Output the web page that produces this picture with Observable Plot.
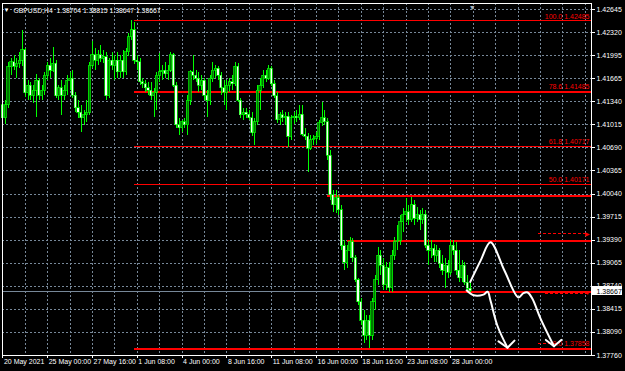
<!DOCTYPE html>
<html><head><meta charset="utf-8">
<script src="https://cdn.jsdelivr.net/npm/d3@7"></script>
<script src="https://cdn.jsdelivr.net/npm/@observablehq/plot@0.6"></script>
<style>html,body{margin:0;padding:0;background:#000;overflow:hidden}</style>
</head><body><div id="chart"></div>
<script>
// ---- data ----
const headerText = "GBPUSD,H4  1.38704 1.38815 1.38647 1.38667";
const firstOpen = 1.4129;
const closes = [
1.4111,1.4129,1.4183,1.4190,1.4184,1.4188,1.4192,1.4207,1.4146,1.4157,
1.4143,1.4150,1.4164,1.4143,1.4150,1.4171,1.4185,1.4178,1.4188,1.4142,
1.4153,1.4143,1.4150,1.4164,1.4167,1.4143,1.4125,1.4119,1.4111,1.4115,
1.4119,1.4185,1.4200,1.4192,1.4200,1.4195,1.4197,1.4142,1.4192,1.4185,
1.4192,1.4176,1.4192,1.4176,1.4204,1.4225,1.4235,1.4192,1.4190,1.4162,
1.4159,1.4153,1.4150,1.4142,1.4147,1.4171,1.4176,1.4178,1.4173,1.4178,
1.4200,1.4157,1.4101,1.4097,1.4105,1.4101,1.4136,1.4176,1.4171,1.4167,
1.4157,1.4164,1.4143,1.4136,1.4167,1.4178,1.4181,1.4171,1.4153,1.4147,
1.4157,1.4162,1.4159,1.4184,1.4136,1.4115,1.4119,1.4116,1.4111,1.4090,
1.4105,1.4150,1.4157,1.4171,1.4167,1.4181,1.4159,1.4142,1.4108,1.4115,
1.4111,1.4113,1.4085,1.4111,1.4113,1.4111,1.4116,1.4088,1.4085,1.4068,
1.4080,1.4082,1.4085,1.4104,1.4111,1.4105,1.4058,1.4002,1.3988,1.3998,
1.3981,1.3930,1.3907,1.3924,1.3936,1.3913,1.3882,1.3851,1.3825,1.3804,
1.3825,1.3804,1.3851,1.3882,1.3917,1.3903,1.3875,1.3899,1.3871,1.3917,
1.3936,1.3938,1.3964,1.3974,1.3978,1.3967,1.3988,1.3969,1.3974,1.3967,
1.3975,1.3931,1.3924,1.3927,1.3917,1.3924,1.3905,1.3896,1.3903,1.3893,
1.3931,1.3924,1.3896,1.3885,1.3903,1.3879,1.38704,1.38667];
const highs = [
1.4140,1.4136,1.4190,1.4195,1.4200,1.4195,1.4204,1.4235,1.4209,1.4164,
1.4162,1.4157,1.4173,1.4167,1.4157,1.4176,1.4190,1.4195,1.4211,1.4192,
1.4157,1.4164,1.4157,1.4171,1.4176,1.4178,1.4147,1.4136,1.4129,1.4122,
1.4136,1.4190,1.4219,1.4209,1.4207,1.4214,1.4207,1.4204,1.4195,1.4204,
1.4200,1.4204,1.4200,1.4207,1.4209,1.4231,1.4249,1.4246,1.4200,1.4195,
1.4167,1.4164,1.4162,1.4162,1.4153,1.4176,1.4202,1.4185,1.4190,1.4185,
1.4204,1.4202,1.4162,1.4111,1.4108,1.4111,1.4143,1.4178,1.4200,1.4178,
1.4176,1.4171,1.4167,1.4150,1.4171,1.4190,1.4185,1.4184,1.4176,1.4164,
1.4164,1.4167,1.4171,1.4190,1.4188,1.4139,1.4125,1.4125,1.4122,1.4119,
1.4111,1.4157,1.4167,1.4178,1.4178,1.4185,1.4184,1.4164,1.4147,1.4119,
1.4122,1.4119,1.4119,1.4115,1.4119,1.4122,1.4129,1.4129,1.4097,1.4090,
1.4087,1.4087,1.4091,1.4108,1.4133,1.4122,1.4111,1.4065,1.4009,1.4009,
1.4002,1.3988,1.3938,1.3931,1.3943,1.3941,1.3917,1.3885,1.3857,1.3840,
1.3832,1.3832,1.3857,1.3889,1.3928,1.3924,1.3913,1.3907,1.3907,1.3924,
1.3943,1.3960,1.3974,1.3984,1.3998,1.3988,1.3999,1.3995,1.3985,1.3981,
1.3984,1.3981,1.3938,1.3938,1.3933,1.3931,1.3927,1.3917,1.3913,1.3910,
1.3938,1.3938,1.3936,1.3924,1.3910,1.3907,1.3889,1.38815];
const lows = [
1.4104,1.4102,1.4125,1.4171,1.4178,1.4167,1.4181,1.4184,1.4140,1.4136,
1.4136,1.4132,1.4112,1.4136,1.4136,1.4143,1.4164,1.4167,1.4176,1.4139,
1.4136,1.4115,1.4136,1.4143,1.4150,1.4139,1.4119,1.4111,1.4091,1.4101,
1.4105,1.4115,1.4181,1.4178,1.4185,1.4190,1.4188,1.4136,1.4139,1.4178,
1.4164,1.4167,1.4167,1.4167,1.4171,1.4198,1.4221,1.4187,1.4178,1.4157,
1.4153,1.4147,1.4143,1.4136,1.4112,1.4122,1.4162,1.4164,1.4167,1.4164,
1.4176,1.4154,1.4097,1.4087,1.4091,1.4097,1.4087,1.4129,1.4164,1.4162,
1.4147,1.4150,1.4136,1.4112,1.4129,1.4162,1.4167,1.4164,1.4143,1.4129,
1.4122,1.4147,1.4150,1.4156,1.4133,1.4111,1.4108,1.4111,1.4108,1.4085,
1.4072,1.4101,1.4122,1.4153,1.4162,1.4164,1.4156,1.4139,1.4104,1.4101,
1.4105,1.4101,1.4070,1.4080,1.4102,1.4105,1.4108,1.4085,1.4080,1.4034,
1.4065,1.4072,1.4074,1.4080,1.4099,1.4101,1.4051,1.3995,1.3978,1.3977,
1.3974,1.3924,1.3896,1.3899,1.3913,1.3907,1.3879,1.3847,1.3818,1.3793,
1.3797,1.3786,1.3797,1.3840,1.3875,1.3889,1.3868,1.3868,1.3865,1.3865,
1.3910,1.3924,1.3931,1.3950,1.3964,1.3960,1.3964,1.3960,1.3964,1.3953,
1.3961,1.3927,1.3903,1.3913,1.3907,1.3907,1.3899,1.3889,1.3871,1.3885,
1.3889,1.3917,1.3889,1.3879,1.3879,1.3875,1.3865,1.38647];

const dateLabels = ["20 May 2021","25 May 00:00","27 May 16:00","1 Jun 08:00","4 Jun 00:00",
  "8 Jun 16:00","11 Jun 08:00","16 Jun 00:00","18 Jun 16:00","23 Jun 08:00","28 Jun 00:00"];
const dateLabelBars = [0,16,32,48,64,80,96,112,128,144,160];
const priceTicks = [1.42645,1.42320,1.41995,1.41665,1.41340,1.41015,1.40690,1.40365,
  1.40040,1.39715,1.39390,1.39065,1.38740,1.38415,1.38090,1.37760];

const fibPct = ["100.0","78.6","61.8","50.0","0.0"];
const fibPrice = [1.42485,1.41485,1.40717,1.40171,1.37858];
const fibStartBar = 47;
const hLinePrice = [1.40005,1.39374,1.38660];
const hLineStartBar = [116,123,135];
const currentPrice = 1.38667;
const dashPrice = [1.3948,1.3864,1.3793];
const dashFromBar = [191.3,193.6,191.3];
const dashToBar = [209.1,209.1,197.7];
const sketchA = [[166.9,1.3880],[170.6,1.3910],[174.1,1.3936],[179.1,1.3896],[184.1,1.3858],
  [185.9,1.3864],[187.4,1.3865],[189.1,1.3856],[192.0,1.3828],[196.8,1.3789]];
const sketchAHead = [[193.9,1.3798],[196.8,1.3789],[199.4,1.3798]];
const sketchB = [[165.6,1.3868],[168.1,1.3861],[171.6,1.3862],[173.1,1.3866],[174.1,1.3854],
  [176.6,1.3818],[180.2,1.3787]];
const sketchBHead = [[177.0,1.3796],[180.2,1.3787],[182.7,1.3797]];
const shiftMarkBar = 167.6;

// ---- view ----
const xMin = -0.143, xMax = 210.2;
const yMin = 1.37760, yMax = 1.427297;

const bars = closes.map((c, i) => ({i, open: i === 0 ? firstOpen : closes[i - 1], high: highs[i], low: lows[i], close: c}));
const fibs = fibPct.map((p, k) => ({pct: p, price: fibPrice[k]}));
const hlines = hLinePrice.map((p, k) => ({price: p, start: hLineStartBar[k]}));
const dashes = dashPrice.map((p, k) => ({price: p, from: dashFromBar[k], to: dashToBar[k]}));
const gridBars = d3.range(0, 209, 8);
const grid = "#778899";

const chart = Plot.plot({
  width: 625, height: 371,
  marginTop: 3, marginRight: 34, marginBottom: 16, marginLeft: 2,
  style: {background: "#000", color: "#fff", fontFamily: "Liberation Sans, Arial, sans-serif", fontSize: "7px", shapeRendering: "crispEdges"},
  x: {domain: [xMin, xMax], axis: "bottom", ticks: dateLabelBars, tickFormat: () => "", tickSize: 3, label: null},
  y: {domain: [yMin, yMax], axis: "right", ticks: priceTicks, tickFormat: d => d.toFixed(5), tickSize: 3, tickPadding: 2, label: null},
  marks: [
    Plot.ruleX(gridBars, {x: d => d, stroke: grid, strokeDasharray: "2,2"}),
    Plot.ruleY(priceTicks, {y: d => d, stroke: grid, strokeDasharray: "2,2"}),
    Plot.ruleY([currentPrice], {y: d => d, stroke: grid}),
    Plot.ruleY(fibs, {y: "price", x1: () => fibStartBar, x2: () => xMax, stroke: "#ff0000",
      strokeWidth: d => (d.pct === "78.6" || d.pct === "0.0") ? 2 : 1}),
    Plot.ruleY(hlines, {y: "price", x1: "start", x2: () => xMax, stroke: "#ff0000", strokeWidth: 2}),
    Plot.ruleY(dashes, {y: "price", x1: "from", x2: "to", stroke: "#ff0000", strokeDasharray: "3,2"}),
    Plot.text([dashes[0]], {x: "to", y: "price", text: () => "\u25B6", fill: "#ff0000", fontSize: 6, dx: -1}),
    Plot.text([dashes[1]], {x: "to", y: "price", text: () => "\u25BC", fill: "#ff0000", fontSize: 5, dx: -1}),
    Plot.text(fibs, {y: "price", text: d => `${d.pct} ${d.price.toFixed(5)}`, frameAnchor: "right",
      textAnchor: "end", dx: -2, dy: -4.5, fill: "#ff0000", fontSize: 7}),
    Plot.ruleX(bars, {x: "i", y1: "low", y2: "high", stroke: "#00ff00", strokeWidth: 1}),
    Plot.rect(bars, {x1: d => d.i - 0.38, x2: d => d.i + 0.38, y1: "open", y2: "close",
      fill: d => d.close > d.open ? "#007800" : "#f4fff4", stroke: "#00ff00", strokeWidth: 0.7}),
    Plot.line(sketchA, {x: d => d[0], y: d => d[1], stroke: "#fff", strokeWidth: 2, curve: "catmull-rom",
      strokeLinecap: "round", strokeLinejoin: "round", shapeRendering: "geometricPrecision"}),
    Plot.line(sketchAHead, {x: d => d[0], y: d => d[1], stroke: "#fff", strokeWidth: 2,
      strokeLinecap: "round", strokeLinejoin: "round", shapeRendering: "geometricPrecision"}),
    Plot.line(sketchB, {x: d => d[0], y: d => d[1], stroke: "#fff", strokeWidth: 2, curve: "catmull-rom",
      strokeLinecap: "round", strokeLinejoin: "round", shapeRendering: "geometricPrecision"}),
    Plot.line(sketchBHead, {x: d => d[0], y: d => d[1], stroke: "#fff", strokeWidth: 2,
      strokeLinecap: "round", strokeLinejoin: "round", shapeRendering: "geometricPrecision"}),
    Plot.frame({stroke: "#fff"}),
    Plot.text(dateLabels, {x: (d, k) => dateLabelBars[k], text: d => d, frameAnchor: "bottom",
      textAnchor: "start", dx: 1, dy: 8, fill: "#fff"}),
    Plot.rect([currentPrice], {x1: () => xMax + 0.3, x2: () => xMax + 11, y1: d => d - 0.00062, y2: d => d + 0.00062, fill: "#fff"}),
    Plot.text([currentPrice], {x: () => xMax, y: d => d, text: d => d.toFixed(5), textAnchor: "start", dx: 5, fill: "#000"}),
    Plot.text([headerText], {frameAnchor: "top-left", text: d => d, textAnchor: "start", dx: 11, dy: 4.5, fill: "#fff", fontSize: 6.8}),
    Plot.text(["\u25BC"], {frameAnchor: "top-left", text: d => d, textAnchor: "start", dx: 1, dy: 4.5, fill: "#fff", fontSize: 6}),
    Plot.text(["\u25BC"], {x: () => shiftMarkBar, frameAnchor: "top", text: d => d, dy: 2, fill: "#a9b0b8", fontSize: 7})
  ]
});
document.getElementById("chart").appendChild(chart);
</script>
</body></html>
